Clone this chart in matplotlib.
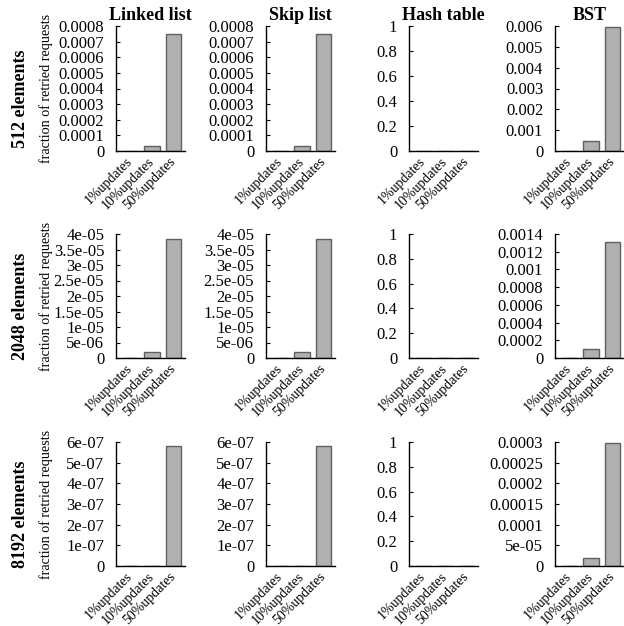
import matplotlib
matplotlib.use("Agg")
import matplotlib.pyplot as plt

categories = ["1%updates", "10%updates", "50%updates"]
structures = ["Linked list", "Skip list", "Hash table", "BST"]
sizes = ["512 elements", "2048 elements", "8192 elements"]

# values[row][col] = [1%, 10%, 50%]
v512_linked = [1e-6, 3.5e-5, 7.5e-4]
v512_skip = [1e-6, 3.5e-5, 7.5e-4]
v512_hash = [0, 0, 0]
v512_bst = [1e-5, 4.8e-4, 5.95e-3]

v2048_linked = [0, 1.8e-6, 3.85e-5]
v2048_skip = [0, 1.8e-6, 3.85e-5]
v2048_hash = [0, 0, 0]
v2048_bst = [5e-6, 1.0e-4, 1.31e-3]

v8192_linked = [0, 0, 5.8e-7]
v8192_skip = [0, 0, 5.8e-7]
v8192_hash = [0, 0, 0]
v8192_bst = [0, 2e-5, 2.97e-4]

values = [
    [v512_linked, v512_skip, v512_hash, v512_bst],
    [v2048_linked, v2048_skip, v2048_hash, v2048_bst],
    [v8192_linked, v8192_skip, v8192_hash, v8192_bst],
]

ticks_hash = [0, 0.2, 0.4, 0.6, 0.8, 1.0]
labels_hash = ["0", "0.2", "0.4", "0.6", "0.8", "1"]

ticks_512_list = [0, 1e-4, 2e-4, 3e-4, 4e-4, 5e-4, 6e-4, 7e-4, 8e-4]
labels_512_list = ["0", "0.0001", "0.0002", "0.0003", "0.0004", "0.0005", "0.0006", "0.0007", "0.0008"]
ticks_512_bst = [0, 1e-3, 2e-3, 3e-3, 4e-3, 5e-3, 6e-3]
labels_512_bst = ["0", "0.001", "0.002", "0.003", "0.004", "0.005", "0.006"]

ticks_2048_list = [0, 5e-6, 1e-5, 1.5e-5, 2e-5, 2.5e-5, 3e-5, 3.5e-5, 4e-5]
labels_2048_list = ["0", "5e-06", "1e-05", "1.5e-05", "2e-05", "2.5e-05", "3e-05", "3.5e-05", "4e-05"]
ticks_2048_bst = [0, 2e-4, 4e-4, 6e-4, 8e-4, 1e-3, 1.2e-3, 1.4e-3]
labels_2048_bst = ["0", "0.0002", "0.0004", "0.0006", "0.0008", "0.001", "0.0012", "0.0014"]

ticks_8192_list = [0, 1e-7, 2e-7, 3e-7, 4e-7, 5e-7, 6e-7]
labels_8192_list = ["0", "1e-07", "2e-07", "3e-07", "4e-07", "5e-07", "6e-07"]
ticks_8192_bst = [0, 5e-5, 1e-4, 1.5e-4, 2e-4, 2.5e-4, 3e-4]
labels_8192_bst = ["0", "5e-05", "0.0001", "0.00015", "0.0002", "0.00025", "0.0003"]

yticks = [
    [(ticks_512_list, labels_512_list), (ticks_512_list, labels_512_list), (ticks_hash, labels_hash), (ticks_512_bst, labels_512_bst)],
    [(ticks_2048_list, labels_2048_list), (ticks_2048_list, labels_2048_list), (ticks_hash, labels_hash), (ticks_2048_bst, labels_2048_bst)],
    [(ticks_8192_list, labels_8192_list), (ticks_8192_list, labels_8192_list), (ticks_hash, labels_hash), (ticks_8192_bst, labels_8192_bst)],
]

plt.rcParams['font.family'] = ['Liberation Serif', 'DejaVu Serif']

W, H = 624, 626
fig = plt.figure(figsize=(W / 100, H / 100), dpi=100)

col_left = [116, 266, 409, 555]
ax_w = 69
row_top = [26, 234, 442]
row_bot = [151, 358, 566]

for r in range(3):
    for c in range(4):
        l = col_left[c]
        t = row_top[r]
        b = row_bot[r]
        ax = fig.add_axes([l / W, 1 - b / H, ax_w / W, (b - t) / H])
        x = list(range(len(categories)))
        ax.bar(x, values[r][c], width=0.72, color="#b0b0b0", edgecolor="#606060", linewidth=1.0, zorder=2)
        tk, lb = yticks[r][c]
        ax.set_ylim(0, tk[-1])
        ax.set_yticks(tk)
        ax.set_yticklabels(lb, fontsize=12)
        ax.set_xlim(-0.68, 2.55)
        ax.set_xticks(x)
        ax.set_xticklabels(categories, rotation=45, ha="right", va="center",
                           rotation_mode="anchor", fontsize=10)
        ax.tick_params(axis="x", length=0, pad=6)
        ax.tick_params(axis="y", direction="in", length=3, width=0.8, pad=8.5)
        for s in ["top", "right"]:
            ax.spines[s].set_visible(False)
        for s in ["left", "bottom"]:
            ax.spines[s].set_linewidth(1.0)
        if r == 0:
            ax.set_title(structures[c], fontsize=13, fontweight="bold", pad=4)
        if c == 0:
            yc = 1 - (row_top[r] + row_bot[r]) / 2 / H
            fig.text(46 / W, yc, "fraction of retried requests", rotation=90, fontsize=10.2,
                     ha="center", va="center")
            yr = 1 - ((row_top[r] + row_bot[r]) / 2 + 10) / H
            fig.text(21 / W, yr, sizes[r], rotation=90, fontsize=13, fontweight="bold",
                     ha="center", va="center")

fig.savefig("out.png", dpi=100)
